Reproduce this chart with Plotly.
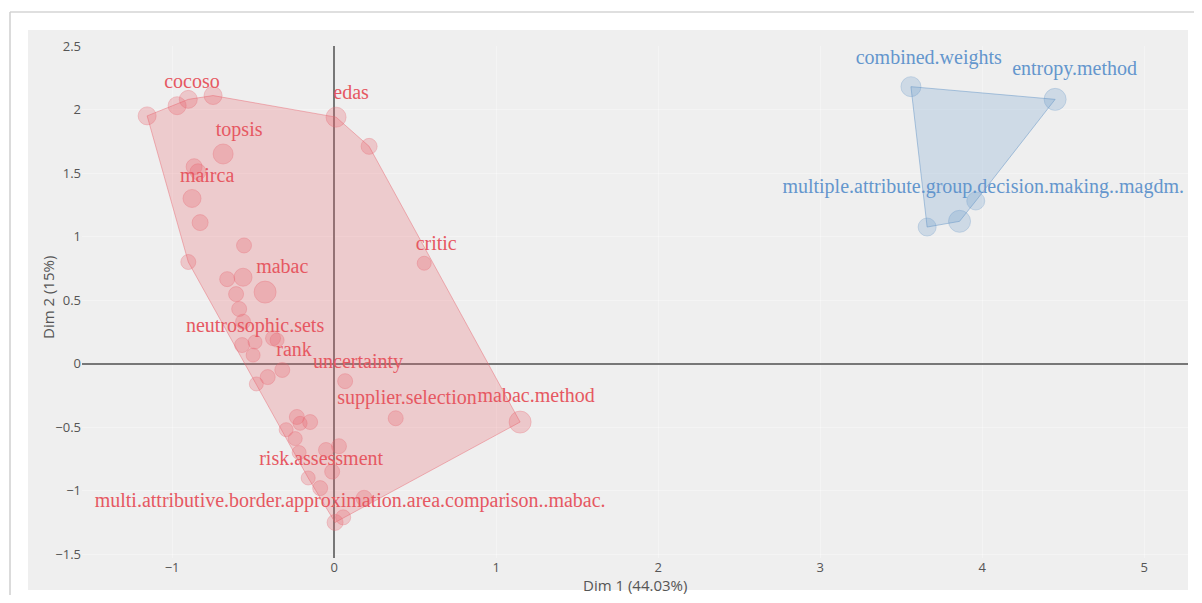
import plotly.graph_objects as go

# ---- data ----
red_x = [-1.154, -0.969, -0.90, -0.747, 0.012, 0.216, -0.685, -0.864, -0.84, -0.877,
         -0.827, -0.556, -0.90, 0.556, -0.66, -0.562, -0.426, -0.605, -0.586, -0.562,
         -0.377, -0.352, -0.568, -0.488, -0.50, -0.32, -0.41, -0.48, 0.068, 0.38,
         1.148, -0.148, 0.03, -0.05, -0.23, -0.21, -0.296, -0.24, -0.216, -0.012,
         -0.16, -0.086, 0.185, 0.006, 0.056]
red_y = [1.95, 2.03, 2.08, 2.11, 1.94, 1.71, 1.65, 1.55, 1.51, 1.30,
         1.11, 0.93, 0.80, 0.79, 0.665, 0.68, 0.563, 0.547, 0.43, 0.33,
         0.20, 0.185, 0.146, 0.17, 0.067, -0.05, -0.106, -0.16, -0.138, -0.43,
         -0.46, -0.46, -0.65, -0.68, -0.42, -0.47, -0.52, -0.59, -0.70, -0.85,
         -0.90, -0.98, -1.06, -1.25, -1.21]
red_size = [18, 18, 18, 18, 20, 16, 20, 16, 16, 18,
            16, 15, 15, 14, 15, 18, 22, 15, 15, 15,
            15, 14, 15, 14, 14, 15, 15, 14, 15, 15,
            22, 15, 15, 15, 15, 14, 14, 14, 14, 15,
            14, 15, 16, 16, 15]

blue_x = [3.56, 4.45, 3.96, 3.86, 3.66]
blue_y = [2.18, 2.08, 1.28, 1.12, 1.075]
blue_size = [20, 22, 18, 22, 18]

red_labels = ["cocoso", "edas", "topsis", "mairca", "critic", "mabac",
              "neutrosophic.sets", "rank", "uncertainty", "supplier.selection",
              "mabac.method", "risk.assessment",
              "multi.attributive.border.approximation.area.comparison..mabac."]
red_label_x = [-0.877, 0.105, -0.586, -0.784, 0.63, -0.32, -0.488, -0.247, 0.148,
               0.45, 1.247, -0.08, 0.099]
red_label_y = [2.207, 2.12, 1.83, 1.47, 0.93, 0.75, 0.287, 0.10, 0.004,
               -0.28, -0.264, -0.76, -1.09]

blue_labels = ["combined.weights", "entropy.method",
               "multiple.attribute.group.decision.making..magdm."]
blue_label_x = [3.67, 4.57, 4.006]
blue_label_y = [2.40, 2.31, 1.38]

x_title = "Dim 1 (44.03%)"
y_title = "Dim 2 (15%)"


def convex_hull(xs, ys):
    pts = sorted(set(zip(xs, ys)))
    if len(pts) <= 2:
        return pts

    def cross(o, a, b):
        return (a[0] - o[0]) * (b[1] - o[1]) - (a[1] - o[1]) * (b[0] - o[0])

    lower, upper = [], []
    for p in pts:
        while len(lower) >= 2 and cross(lower[-2], lower[-1], p) <= 0:
            lower.pop()
        lower.append(p)
    for p in reversed(pts):
        while len(upper) >= 2 and cross(upper[-2], upper[-1], p) <= 0:
            upper.pop()
        upper.append(p)
    hull = lower[:-1] + upper[:-1]
    hull.append(hull[0])
    return hull


RED = "rgb(230,88,98)"
BLUE = "rgb(100,150,205)"

fig = go.Figure()

for xs, ys, fillc, linec in [
    (red_x, red_y, "rgba(232,100,110,0.26)", "rgba(232,100,110,0.45)"),
    (blue_x, blue_y, "rgba(100,150,200,0.24)", "rgba(100,150,200,0.5)"),
]:
    h = convex_hull(xs, ys)
    fig.add_trace(go.Scatter(
        x=[p[0] for p in h], y=[p[1] for p in h], mode="lines",
        fill="toself", fillcolor=fillc, line=dict(color=linec, width=1),
        hoverinfo="skip", showlegend=False))

fig.add_trace(go.Scatter(
    x=red_x, y=red_y, mode="markers",
    marker=dict(size=red_size, color="rgba(232,100,110,0.4)",
                line=dict(color="rgba(232,100,110,0.45)", width=1)),
    showlegend=False))
fig.add_trace(go.Scatter(
    x=blue_x, y=blue_y, mode="markers",
    marker=dict(size=blue_size, color="rgba(100,150,200,0.34)",
                line=dict(color="rgba(100,150,200,0.42)", width=1)),
    showlegend=False))

fig.add_trace(go.Scatter(
    x=red_label_x, y=red_label_y, mode="text", text=red_labels,
    textposition="middle center",
    textfont=dict(family="Liberation Serif", size=20, color=RED),
    showlegend=False))
fig.add_trace(go.Scatter(
    x=blue_label_x, y=blue_label_y, mode="text", text=blue_labels,
    textposition="middle center",
    textfont=dict(family="Liberation Serif", size=20, color=BLUE),
    showlegend=False))

# page body has an 8px margin: work in reference pixels, shift by 8
OFF = 8
FW, FH = 1202 - 2 * OFF, 603 - 2 * OFF
L, R, T, B = 82 - OFF, 1188 - OFF, 46 - OFF, 558 - OFF
W, H = R - L, B - T


def px(xp):
    return (xp - OFF - L) / W


def py(yp):
    return (B - (yp - OFF)) / H


fig.add_shape(type="rect", xref="paper", yref="paper",
              x0=px(28), x1=px(1188), y0=py(590), y1=py(30),
              fillcolor="#efefef", line=dict(width=0), layer="below")
fig.add_shape(type="line", xref="paper", yref="paper",
              x0=px(10), x1=px(1196), y0=py(12), y1=py(12),
              line=dict(color="#d4d4d4", width=1.5), layer="below")
fig.add_shape(type="line", xref="paper", yref="paper",
              x0=px(10), x1=px(10), y0=py(12), y1=py(610),
              line=dict(color="#cfcfcf", width=1.5), layer="below")

fig.add_annotation(text=x_title, xref="paper", yref="paper", x=0.5, y=py(585),
                   yanchor="middle", showarrow=False,
                   font=dict(family="Open Sans", size=15, color="#555"))
fig.add_annotation(text=y_title, xref="paper", yref="paper", x=px(36), y=py(298),
                   textangle=-90, showarrow=False,
                   font=dict(family="Open Sans", size=15, color="#555"))

axis_common = dict(showgrid=True, gridcolor="rgba(255,255,255,0.35)", gridwidth=1,
                   zeroline=True, zerolinecolor="#777", zerolinewidth=1.5,
                   showline=False, ticks="",
                   tickfont=dict(family="Open Sans", size=13, color="#555"))

fig.update_layout(
    width=FW, height=FH,
    margin=dict(l=L, r=FW - R, t=T, b=FH - B),
    paper_bgcolor="white", plot_bgcolor="#efefef",
    xaxis=dict(range=[-1.556, 5.27], dtick=1, **axis_common),
    yaxis=dict(range=[-1.53, 2.5], dtick=0.5, **axis_common),
    showlegend=False,
)

fig.write_html("out.html")
